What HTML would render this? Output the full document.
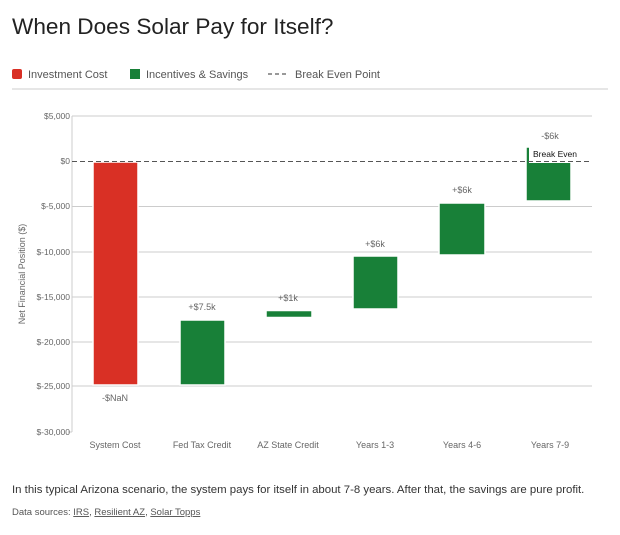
<!DOCTYPE html>
<html><head><style>
body{margin:0;background:#fff;width:620px;height:530px;overflow:hidden;font-family:"Liberation Sans",sans-serif}
</style></head><body>
<svg width="620" height="530" xmlns="http://www.w3.org/2000/svg" font-family="Liberation Sans, sans-serif">
<text x="12" y="34" font-size="22.6" fill="#222">When Does Solar Pay for Itself?</text>
<rect x="12" y="69" width="10" height="10" rx="2" fill="#d93025"/>
<text x="28" y="78" font-size="11" fill="#555">Investment Cost</text>
<rect x="130" y="69" width="10" height="10" fill="#188038"/>
<text x="146" y="78" font-size="11" fill="#555">Incentives &amp; Savings</text>
<line x1="268" y1="74" x2="288" y2="74" stroke="#333" stroke-dasharray="4,3"/>
<text x="295" y="78" font-size="11" fill="#555">Break Even Point</text>
<line x1="12" y1="89" x2="608" y2="89" stroke="#ccc"/>
<g stroke="#ccc" stroke-width="1">
<line x1="72" y1="116" x2="72" y2="432"/>
<line x1="72" y1="116" x2="592" y2="116"/>
<line x1="72" y1="206.5" x2="592" y2="206.5"/>
<line x1="72" y1="252" x2="592" y2="252"/>
<line x1="72" y1="297" x2="592" y2="297"/>
<line x1="72" y1="342" x2="592" y2="342"/>
<line x1="72" y1="386" x2="592" y2="386"/>
<line x1="68" y1="432" x2="72" y2="432"/>
</g>
<g font-size="8.5" fill="#666" text-anchor="end">
<text x="70" y="119">$5,000</text>
<text x="70" y="164">$0</text>
<text x="70" y="209">$-5,000</text>
<text x="70" y="255">$-10,000</text>
<text x="70" y="300">$-15,000</text>
<text x="70" y="345">$-20,000</text>
<text x="70" y="389">$-25,000</text>
<text x="70" y="435">$-30,000</text>
</g>
<text transform="translate(25,274) rotate(-90)" font-size="9" fill="#666" text-anchor="middle">Net Financial Position ($)</text>
<g stroke="#fff" stroke-width="1.5">
<rect x="93" y="162" width="45" height="223" fill="#d93025"/>
<rect x="180" y="320" width="45" height="65" fill="#188038"/>
<rect x="266" y="310.5" width="46" height="7" fill="#188038"/>
<rect x="353" y="256" width="45" height="53" fill="#188038"/>
<rect x="439" y="203" width="46" height="52" fill="#188038"/>
<rect x="526" y="147" width="45" height="54" fill="#188038"/>
</g>
<rect x="529" y="147" width="44" height="16" fill="#fff"/>
<line x1="72" y1="161.5" x2="592" y2="161.5" stroke="#555" stroke-dasharray="5,3"/>
<text x="533" y="157" font-size="8.5" fill="#111">Break Even</text>
<g font-size="9" fill="#666" text-anchor="middle">
<text x="115" y="401">-$NaN</text>
<text x="202" y="310">+$7.5k</text>
<text x="288" y="301">+$1k</text>
<text x="375" y="247">+$6k</text>
<text x="462" y="193">+$6k</text>
<text x="550" y="139">-$6k</text>
<text x="115" y="448">System Cost</text>
<text x="202" y="448">Fed Tax Credit</text>
<text x="288" y="448">AZ State Credit</text>
<text x="375" y="448">Years 1-3</text>
<text x="462" y="448">Years 4-6</text>
<text x="550" y="448">Years 7-9</text>
</g>
<text x="12" y="493" font-size="11.4" fill="#333">In this typical Arizona scenario, the system pays for itself in about 7-8 years. After that, the savings are pure profit.</text>
<text x="12" y="515" font-size="9.5" fill="#555">Data sources: <tspan text-decoration="underline">IRS</tspan>, <tspan text-decoration="underline">Resilient AZ</tspan>, <tspan text-decoration="underline">Solar Topps</tspan></text>
</svg>
</body></html>
